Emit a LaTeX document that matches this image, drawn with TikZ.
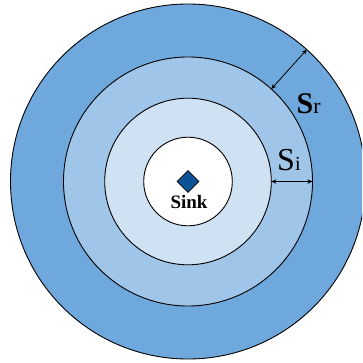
\documentclass[tikz,border=0pt]{standalone}
\usepackage{fontspec}
\setmainfont{Liberation Serif}
\usetikzlibrary{arrows.meta,shapes.geometric}
\definecolor{ringA}{HTML}{6FA8DC}
\definecolor{ringB}{HTML}{9FC5E8}
\definecolor{ringC}{HTML}{CFE2F3}
\definecolor{sinkblue}{HTML}{0B5394}
\tikzset{
  ring/.style={circle, draw=black, line width=0.9pt, inner sep=0pt, outer sep=0pt},
  dimarrow/.style={{Stealth[length=5pt,width=4.5pt]}-{Stealth[length=5pt,width=4.5pt]}, line width=0.8pt},
  lbl/.style={inner sep=0pt, anchor=base west}
}
\begin{document}
\begin{tikzpicture}[x=1pt,y=-1pt]
\useasboundingbox (0,0) rectangle (362,363);
\clip (0,0) rectangle (362,363);
\coordinate (ctr) at (188,181.5);
\node[ring, fill=ringA, minimum size=355pt] (c1) at (ctr) {};
\node[ring, fill=ringB, minimum size=249pt] (c2) at (ctr) {};
\node[ring, fill=ringC, minimum size=166.6pt] (c3) at (ctr) {};
\node[ring, fill=white, minimum size=88.6pt] (c4) at (ctr) {};
\node[diamond, draw=black, line width=0.6pt, fill=sinkblue, minimum size=22pt, inner sep=0pt] (sink) at (188,181.5) {};
\node[inner sep=0pt, anchor=base] (sinklbl) at (189,208.3) {\fontsize{19}{19}\selectfont\bfseries Sink};
\draw[dimarrow] (c3.east) -- (c2.east);
\draw[dimarrow] (c2.48) -- (c1.48);
\node[lbl] (sr) at (296.5,113.3) {{\fontsize{30}{30}\selectfont\bfseries S}{\fontsize{22}{22}\selectfont r}};
\node[lbl] (si) at (277,171) {{\fontsize{32}{32}\selectfont S}{\fontsize{20}{20}\selectfont i}};
\end{tikzpicture}
\end{document}
